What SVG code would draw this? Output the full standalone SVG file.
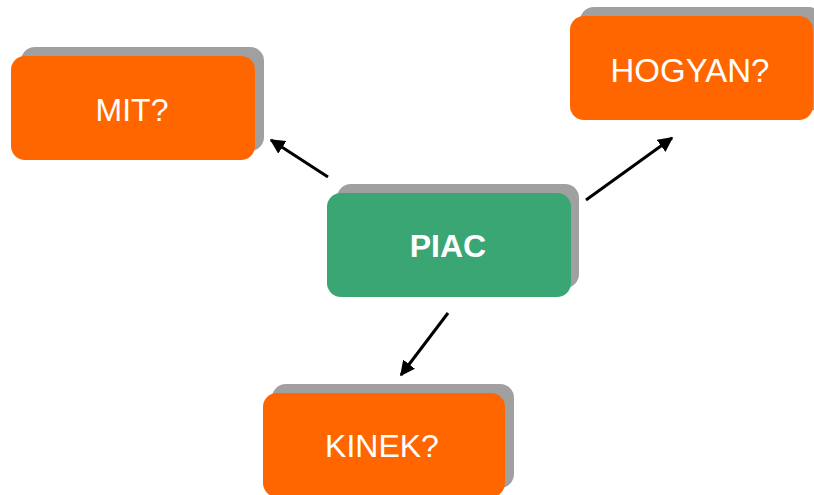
<svg xmlns="http://www.w3.org/2000/svg" width="814" height="495" viewBox="0 0 814 495">
  <style>
    .shadow { fill: #a0a0a0; }
    .orange { fill: #ff6600; }
    .green { fill: #3aa673; }
    .label { fill: #ffffff; font-family: "Liberation Sans", Arial, sans-serif; font-size: 32px; text-anchor: middle; }
    .bold { font-weight: bold; }
    .conn { stroke: #000000; stroke-width: 3; fill: none; marker-end: url(#arrow); }
  </style>
  <defs>
    <marker id="arrow" viewBox="0 0 10 10" refX="9" refY="5" markerWidth="5" markerHeight="5" orient="auto" markerUnits="strokeWidth">
      <path d="M0,0 L10,5 L0,10 z" fill="#000000"/>
    </marker>
  </defs>

  <g id="connectors">
    <line class="conn" x1="328" y1="177" x2="271" y2="140"/>
    <line class="conn" x1="586" y1="200" x2="672" y2="138"/>
    <line class="conn" x1="448" y1="313" x2="401" y2="375"/>
  </g>

  <g id="node-mit">
    <rect class="shadow" x="21" y="47" width="243" height="104" rx="14"/>
    <rect class="orange" x="11" y="56" width="244" height="104" rx="14"/>
    <text class="label" x="132" y="121">MIT?</text>
  </g>

  <g id="node-hogyan">
    <rect class="shadow" x="580" y="7" width="243" height="104" rx="14"/>
    <rect class="orange" x="570" y="16" width="243" height="104" rx="14"/>
    <text class="label" x="690" y="82" style="font-size:33px">HOGYAN?</text>
  </g>

  <g id="node-piac">
    <rect class="shadow" x="337" y="184" width="242" height="104" rx="14"/>
    <rect class="green" x="327" y="193" width="244" height="104" rx="14"/>
    <text class="label bold" x="448" y="257">PIAC</text>
  </g>

  <g id="node-kinek">
    <rect class="shadow" x="272" y="384" width="242" height="104" rx="14"/>
    <rect class="orange" x="263" y="393" width="242" height="104" rx="14"/>
    <text class="label" x="382" y="457">KINEK?</text>
  </g>
</svg>
